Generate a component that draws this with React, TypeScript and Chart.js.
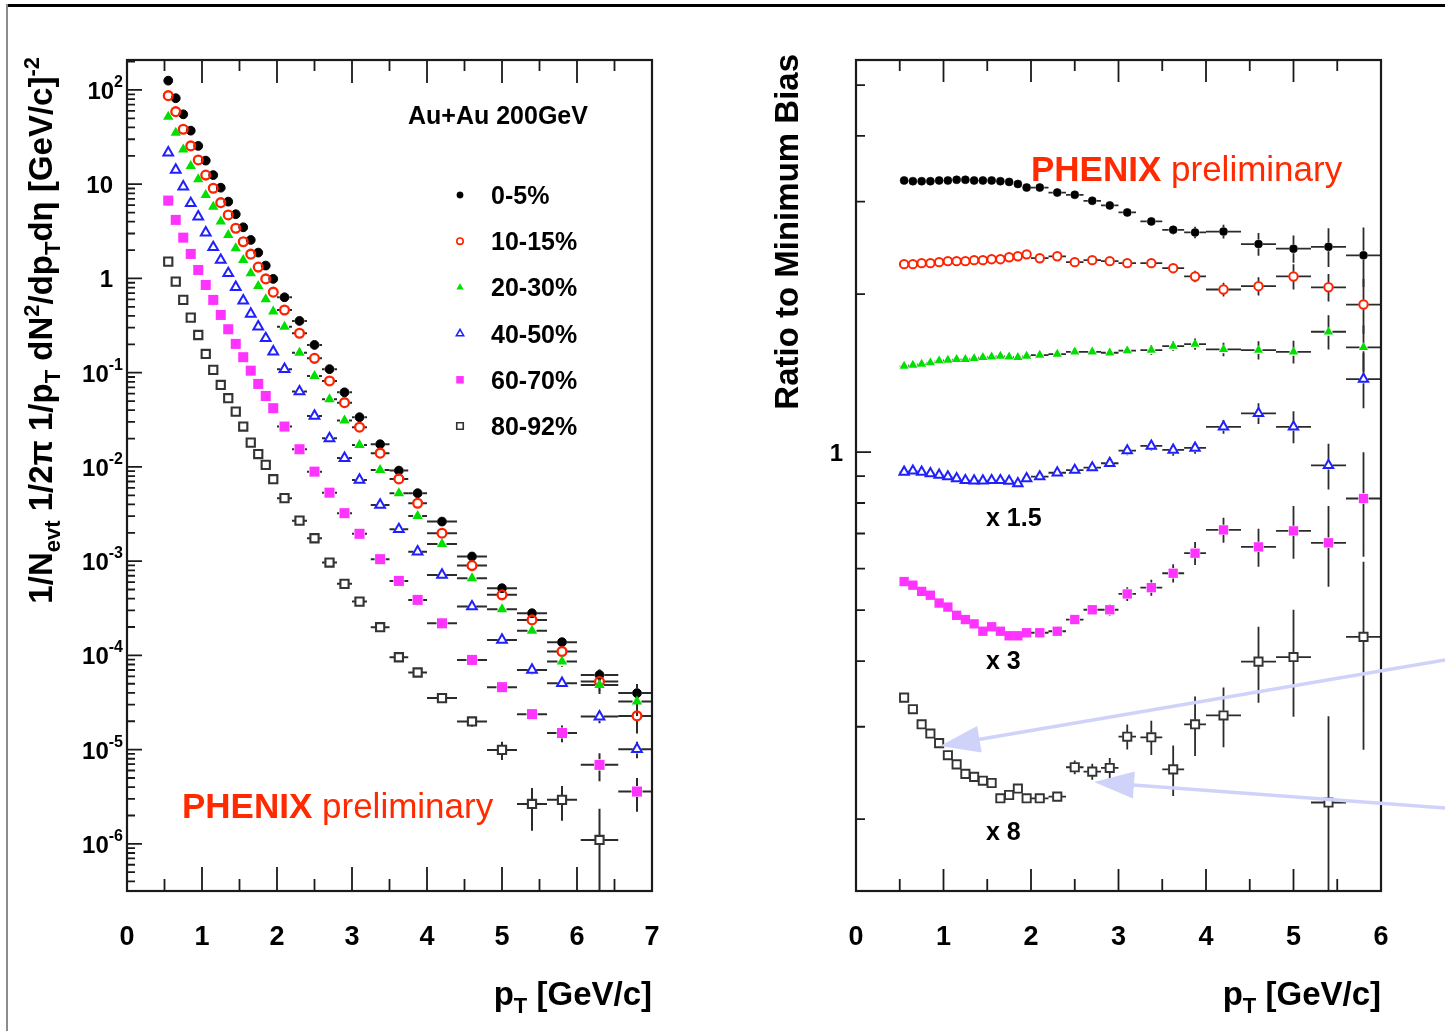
import { useEffect, useRef } from 'react';
import { Chart, registerables } from 'chart.js';

Chart.register(...registerables);

const PAGE_W = 1445;
const PAGE_H = 1031;
const FONT = "'Liberation Sans', Arial, Helvetica, sans-serif";
const AXIS_COLOR = '#1a1a1a';
const BAR_COLOR = '#2b2b2b';
const PHENIX_RED = '#ff2a00';
const ARROW_COLOR = '#d0d3f9';

// ---- binning (shared by both panels) ----
const PT_BINS = [0.55, 0.65, 0.75, 0.85, 0.95, 1.05, 1.15, 1.25, 1.35, 1.45, 1.55, 1.65, 1.75, 1.85, 1.95, 2.1, 2.3, 2.5, 2.7, 2.9, 3.1, 3.375, 3.625, 3.875, 4.2, 4.6, 5.0, 5.4, 5.8, 6.3, 6.8];
const PT_HALF_WIDTHS = [0.05, 0.05, 0.05, 0.05, 0.05, 0.05, 0.05, 0.05, 0.05, 0.05, 0.05, 0.05, 0.05, 0.05, 0.05, 0.1, 0.1, 0.1, 0.1, 0.1, 0.1, 0.125, 0.125, 0.125, 0.2, 0.2, 0.2, 0.2, 0.2, 0.25, 0.25];

const CENTRALITY_CLASSES = ['0-5%', '10-15%', '20-30%', '40-50%', '60-70%', '80-92%'];

// ---- invariant yields, 1/Nevt 1/2pi 1/pT d2N/dpTdeta ----
const YIELD_0_5 = [125.6, 81.7, 55.2, 37.0, 25.5, 17.8, 12.5, 9.18, 6.53, 4.80, 3.49, 2.56, 1.88, 1.37, 0.989, 0.631, 0.354, 0.197, 0.109, 0.0619, 0.0337, 0.0174, 0.00914, 0.00526, 0.00263, 0.00112, 0.000516, 0.00028, 0.000138, 0.0000621, 0.0000398];
const YIELD_10_15 = [87.1, 58.9, 38.3, 25.5, 18.1, 12.5, 9.06, 6.37, 4.72, 3.41, 2.45, 1.81, 1.32, 0.989, 0.715, 0.463, 0.262, 0.142, 0.0817, 0.0481, 0.0264, 0.014, 0.00746, 0.00412, 0.00198, 0.000897, 0.000439, 0.000238, 0.00011, 0.0000527, 0.0000228];
const YIELD_20_30 = [52.1, 35.2, 23.4, 15.6, 11.3, 7.69, 5.78, 4.01, 2.89, 2.09, 1.57, 1.135, 0.832, 0.601, 0.445, 0.308, 0.163, 0.0923, 0.0522, 0.031, 0.0171, 0.00929, 0.00526, 0.00302, 0.00152, 0.000659, 0.000309, 0.000183, 0.0000859, 0.0000486, 0.0000324];
const YIELD_40_50 = [21.6, 14.2, 9.42, 6.28, 4.53, 3.06, 2.14, 1.57, 1.135, 0.807, 0.581, 0.42, 0.308, 0.232, 0.167, 0.109, 0.0631, 0.0348, 0.0201, 0.0124, 0.00728, 0.00395, 0.00218, 0.00126, 0.000714, 0.00033, 0.000146, 0.0000701, 0.0000507, 0.0000224, 0.0000101];
const YIELD_60_70 = [6.7, 4.18, 2.71, 1.82, 1.23, 0.853, 0.592, 0.41, 0.289, 0.202, 0.146, 0.105, 0.076, 0.0566, 0.042, 0.0268, 0.0154, 0.00891, 0.00533, 0.00323, 0.00195, 0.00105, 0.000617, 0.000388, 0.000219, 0.0000895, 0.000046, 0.0000238, 0.000015, 0.00000689, 0.00000359];
const YIELD_80_92 = [1.51, 0.925, 0.592, 0.384, 0.251, 0.158, 0.107, 0.0741, 0.0536, 0.0386, 0.0268, 0.0181, 0.0137, 0.0105, 0.00741, 0.00466, 0.00269, 0.00175, 0.000966, 0.000574, 0.000372, 0.000199, 0.0000955, 0.0000658, 0.0000352, 0.0000199, 0.00000993, 0.00000265, 0.00000293, 0.0000011];

// relative statistical errors on the yields
const YIELD_ERR_0_5 = [0.02, 0.02, 0.02, 0.02, 0.02, 0.02, 0.02, 0.02, 0.02, 0.02, 0.02, 0.02, 0.02, 0.02, 0.02, 0.03, 0.03, 0.03, 0.03, 0.03, 0.03, 0.03, 0.04, 0.04, 0.05, 0.06, 0.07, 0.08, 0.12, 0.15, 0.25];
const YIELD_ERR_10_15 = [0.02, 0.02, 0.02, 0.02, 0.02, 0.02, 0.02, 0.02, 0.02, 0.02, 0.02, 0.02, 0.02, 0.02, 0.02, 0.03, 0.03, 0.03, 0.03, 0.03, 0.03, 0.03, 0.04, 0.04, 0.05, 0.06, 0.07, 0.09, 0.12, 0.2, 0.35];
const YIELD_ERR_20_30 = [0.02, 0.02, 0.02, 0.02, 0.02, 0.02, 0.02, 0.02, 0.02, 0.02, 0.02, 0.02, 0.02, 0.02, 0.02, 0.03, 0.03, 0.03, 0.03, 0.03, 0.03, 0.03, 0.04, 0.04, 0.05, 0.06, 0.07, 0.09, 0.12, 0.2, 0.3];
const YIELD_ERR_40_50 = [0.02, 0.02, 0.02, 0.02, 0.02, 0.02, 0.02, 0.02, 0.02, 0.02, 0.02, 0.02, 0.02, 0.02, 0.02, 0.03, 0.03, 0.03, 0.03, 0.03, 0.03, 0.03, 0.04, 0.04, 0.05, 0.06, 0.08, 0.1, 0.1, 0.15, 0.2];
const YIELD_ERR_60_70 = [0.02, 0.02, 0.02, 0.02, 0.02, 0.02, 0.02, 0.02, 0.02, 0.02, 0.02, 0.02, 0.02, 0.02, 0.02, 0.03, 0.03, 0.03, 0.03, 0.03, 0.03, 0.03, 0.04, 0.04, 0.05, 0.07, 0.09, 0.13, 0.2, 0.33, 0.39];
const YIELD_ERR_80_92 = [0.02, 0.02, 0.02, 0.02, 0.02, 0.02, 0.02, 0.02, 0.02, 0.02, 0.02, 0.02, 0.02, 0.02, 0.02, 0.03, 0.03, 0.04, 0.04, 0.05, 0.05, 0.06, 0.07, 0.08, 0.09, 0.12, 0.22, 0.48, 0.4, 1.15];

// ---- ratio of each class to the minimum-bias spectrum ----
const RATIO_0_5 = [3.29, 3.28, 3.28, 3.28, 3.29, 3.29, 3.3, 3.3, 3.29, 3.29, 3.29, 3.28, 3.27, 3.24, 3.19, 3.19, 3.12, 3.09, 3.01, 2.95, 2.86, 2.75, 2.65, 2.62, 2.63, 2.49, 2.44, 2.46, 2.37];
const RATIO_10_15 = [2.28, 2.28, 2.29, 2.29, 2.3, 2.31, 2.31, 2.31, 2.32, 2.32, 2.33, 2.33, 2.35, 2.36, 2.38, 2.34, 2.36, 2.3, 2.32, 2.31, 2.29, 2.29, 2.24, 2.16, 2.04, 2.07, 2.16, 2.06, 1.91];
const RATIO_20_30 = [1.458, 1.465, 1.471, 1.48, 1.493, 1.497, 1.502, 1.502, 1.508, 1.515, 1.519, 1.524, 1.519, 1.515, 1.524, 1.53, 1.537, 1.552, 1.552, 1.546, 1.56, 1.564, 1.592, 1.606, 1.569, 1.564, 1.552, 1.695, 1.583];
const RATIO_40_50 = [0.611, 0.614, 0.611, 0.607, 0.603, 0.599, 0.594, 0.589, 0.588, 0.588, 0.589, 0.589, 0.587, 0.581, 0.594, 0.599, 0.609, 0.616, 0.623, 0.635, 0.671, 0.685, 0.673, 0.679, 0.745, 0.79, 0.745, 0.629, 0.918];
const RATIO_60_70 = [0.189, 0.186, 0.181, 0.178, 0.172, 0.169, 0.163, 0.16, 0.157, 0.152, 0.155, 0.152, 0.149, 0.149, 0.151, 0.151, 0.152, 0.16, 0.167, 0.167, 0.179, 0.184, 0.196, 0.214, 0.237, 0.22, 0.236, 0.224, 0.272];
const RATIO_80_92 = [0.0426, 0.0405, 0.0379, 0.0364, 0.0349, 0.0331, 0.0318, 0.0305, 0.0301, 0.0296, 0.0293, 0.0274, 0.0278, 0.0286, 0.0274, 0.0274, 0.0276, 0.0314, 0.0308, 0.0313, 0.0359, 0.0358, 0.0311, 0.0379, 0.0394, 0.0499, 0.0509, 0.0269, 0.0556];
// display multipliers applied to the peripheral ratios
const RATIO_SCALE = [1, 1, 1, 1.5, 3, 8];

const RATIO_ERR_0_5 = [0.01, 0.01, 0.01, 0.01, 0.01, 0.01, 0.01, 0.01, 0.01, 0.01, 0.01, 0.01, 0.01, 0.01, 0.01, 0.01, 0.01, 0.01, 0.01, 0.01, 0.015, 0.02, 0.02, 0.025, 0.03, 0.05, 0.06, 0.085, 0.13];
const RATIO_ERR_10_15 = [0.01, 0.01, 0.01, 0.01, 0.01, 0.01, 0.01, 0.01, 0.01, 0.01, 0.01, 0.01, 0.01, 0.01, 0.01, 0.01, 0.01, 0.01, 0.01, 0.01, 0.015, 0.02, 0.02, 0.025, 0.03, 0.04, 0.055, 0.06, 0.12];
const RATIO_ERR_20_30 = [0.01, 0.01, 0.01, 0.01, 0.01, 0.01, 0.01, 0.01, 0.01, 0.01, 0.01, 0.01, 0.01, 0.01, 0.01, 0.01, 0.01, 0.01, 0.01, 0.01, 0.015, 0.02, 0.02, 0.025, 0.03, 0.04, 0.05, 0.075, 0.1];
const RATIO_ERR_40_50 = [0.01, 0.01, 0.01, 0.01, 0.01, 0.01, 0.01, 0.01, 0.01, 0.01, 0.01, 0.01, 0.01, 0.01, 0.01, 0.01, 0.01, 0.01, 0.01, 0.01, 0.02, 0.02, 0.025, 0.025, 0.03, 0.045, 0.07, 0.1, 0.12];
const RATIO_ERR_60_70 = [0.01, 0.01, 0.01, 0.01, 0.01, 0.01, 0.01, 0.01, 0.01, 0.01, 0.01, 0.01, 0.01, 0.01, 0.01, 0.015, 0.015, 0.02, 0.02, 0.025, 0.03, 0.035, 0.04, 0.05, 0.055, 0.083, 0.115, 0.175, 0.225];
const RATIO_ERR_80_92 = [0.015, 0.015, 0.015, 0.015, 0.015, 0.015, 0.015, 0.015, 0.015, 0.015, 0.015, 0.015, 0.015, 0.015, 0.015, 0.02, 0.02, 0.03, 0.035, 0.045, 0.055, 0.075, 0.11, 0.13, 0.13, 0.165, 0.23, 0.46, 0.39];

// ---- axes ----
const SPECTRA_X_RANGE = [0, 7];
const SPECTRA_Y_RANGE = [3.16e-7, 208];
const SPECTRA_X_TICKS = [0, 1, 2, 3, 4, 5, 6, 7];
const SPECTRA_Y_DECADES = [-6, -5, -4, -3, -2, -1, 0, 1, 2];
const RATIO_X_RANGE = [0, 6];
const RATIO_Y_RANGE = [0.146, 5.58];
const RATIO_X_TICKS = [0, 1, 2, 3, 4, 5, 6];
const RATIO_Y_LABELS = [1];

const SPECTRA = [YIELD_0_5, YIELD_10_15, YIELD_20_30, YIELD_40_50, YIELD_60_70, YIELD_80_92];
const SPECTRA_ERR = [YIELD_ERR_0_5, YIELD_ERR_10_15, YIELD_ERR_20_30, YIELD_ERR_40_50, YIELD_ERR_60_70, YIELD_ERR_80_92];
const RATIOS = [RATIO_0_5, RATIO_10_15, RATIO_20_30, RATIO_40_50, RATIO_60_70, RATIO_80_92];
const RATIOS_ERR = [RATIO_ERR_0_5, RATIO_ERR_10_15, RATIO_ERR_20_30, RATIO_ERR_40_50, RATIO_ERR_60_70, RATIO_ERR_80_92];

type Shape = 'circle' | 'triangle' | 'rect';
const MARKERS: { color: string; shape: Shape; filled: boolean }[] = [
  { color: '#000000', shape: 'circle', filled: true },
  { color: '#ff2200', shape: 'circle', filled: false },
  { color: '#00e000', shape: 'triangle', filled: true },
  { color: '#1f1fff', shape: 'triangle', filled: false },
  { color: '#ff33ff', shape: 'rect', filled: true },
  { color: '#333333', shape: 'rect', filled: false },
];
const SPECTRA_MARKER_SIZE = [
  { r: 4.4, bw: 1 }, { r: 4.4, bw: 2.3 }, { r: 6, bw: 0 }, { r: 5.6, bw: 2 }, { r: 7.1, bw: 0 }, { r: 5.8, bw: 2.1 },
];
const RATIO_MARKER_SIZE = [
  { r: 4, bw: 0.6 }, { r: 4.2, bw: 2 }, { r: 5.3, bw: 0 }, { r: 5.4, bw: 2 }, { r: 6.6, bw: 0 }, { r: 5.8, bw: 1.9 },
];
const LEGEND_MARKER_SIZE = [
  { r: 3.2, bw: 0.5 }, { r: 3.2, bw: 1.6 }, { r: 4.2, bw: 0 }, { r: 4.2, bw: 1.6 }, { r: 5.3, bw: 0 }, { r: 4.6, bw: 1.6 },
];

// ---- text helpers ----
type Seg = { t: string; size: number; bold?: boolean; dy?: number };
const segFont = (s: Seg) => `${s.bold ? 'bold ' : ''}${s.size}px ${FONT}`;

function richWidth(ctx: CanvasRenderingContext2D, segs: Seg[]) {
  let w = 0;
  for (const s of segs) {
    ctx.font = segFont(s);
    w += ctx.measureText(s.t).width;
  }
  return w;
}

function drawRich(ctx: CanvasRenderingContext2D, segs: Seg[], x: number, y: number, align: 'left' | 'right' | 'center') {
  const w = richWidth(ctx, segs);
  let cx = align === 'left' ? x : align === 'right' ? x - w : x - w / 2;
  ctx.textAlign = 'left';
  ctx.textBaseline = 'alphabetic';
  for (const s of segs) {
    ctx.font = segFont(s);
    ctx.fillText(s.t, cx, y + (s.dy || 0));
    cx += ctx.measureText(s.t).width;
  }
}

function drawMarker(ctx: CanvasRenderingContext2D, shape: Shape, filled: boolean, color: string, x: number, y: number, r: number, bw: number) {
  ctx.save();
  ctx.beginPath();
  if (shape === 'circle') ctx.arc(x, y, r, 0, Math.PI * 2);
  else if (shape === 'triangle') {
    ctx.moveTo(x, y - r);
    ctx.lineTo(x + r * 0.866, y + r / 2);
    ctx.lineTo(x - r * 0.866, y + r / 2);
    ctx.closePath();
  } else {
    const h = r * Math.SQRT1_2;
    ctx.rect(x - h, y - h, 2 * h, 2 * h);
  }
  if (filled) {
    ctx.fillStyle = color;
    ctx.fill();
  }
  if (bw > 0) {
    ctx.lineWidth = bw;
    ctx.strokeStyle = color;
    ctx.stroke();
  }
  ctx.restore();
}

const X_TITLE: Seg[] = [
  { t: 'p', size: 33, bold: true },
  { t: 'T', size: 22, bold: true, dy: 8 },
  { t: ' [GeV/c]', size: 33, bold: true },
];
const SPECTRA_Y_TITLE: Seg[] = [
  { t: '1/N', size: 33, bold: true },
  { t: 'evt', size: 22, bold: true, dy: 8 },
  { t: ' 1/2π 1/p', size: 33, bold: true },
  { t: 'T', size: 22, bold: true, dy: 8 },
  { t: ' dN', size: 33, bold: true },
  { t: '2', size: 22, bold: true, dy: -13 },
  { t: '/dp', size: 33, bold: true },
  { t: 'T', size: 22, bold: true, dy: 8 },
  { t: 'dη [GeV/c]', size: 33, bold: true },
  { t: '-2', size: 22, bold: true, dy: -13 },
];
const RATIO_Y_TITLE: Seg[] = [{ t: 'Ratio to Minimum Bias', size: 33, bold: true }];
const PRELIMINARY: Seg[] = [
  { t: 'PHENIX', size: 35, bold: true },
  { t: ' preliminary', size: 35 },
];

// ---- error bars drawn beneath the markers ----
const errorBarPlugin = {
  id: 'errorBars',
  beforeDatasetsDraw(chart: any) {
    const { ctx, chartArea: a } = chart;
    const xs = chart.scales.x;
    const ys = chart.scales.y;
    ctx.save();
    ctx.beginPath();
    ctx.rect(a.left, a.top, a.right - a.left, a.bottom - a.top);
    ctx.clip();
    ctx.strokeStyle = BAR_COLOR;
    chart.data.datasets.forEach((ds: any) => {
      ctx.lineWidth = ds.barWidth;
      const gap = ds.barGap;
      ctx.beginPath();
      ds.data.forEach((p: any, i: number) => {
        const px = xs.getPixelForValue(p.x);
        const py = ys.getPixelForValue(p.y);
        const hw = ds.xHalfWidths[i];
        const f = ds.yErrFractions[i];
        const xl = xs.getPixelForValue(p.x - hw);
        const xr = xs.getPixelForValue(p.x + hw);
        if (px - xl > gap) {
          ctx.moveTo(xl, py);
          ctx.lineTo(px - gap, py);
          ctx.moveTo(px + gap, py);
          ctx.lineTo(xr, py);
        }
        const yt = ys.getPixelForValue(p.y * (1 + f));
        const yb = f >= 1 ? a.bottom : ys.getPixelForValue(p.y * (1 - f));
        if (py - yt > gap) {
          ctx.moveTo(px, yt);
          ctx.lineTo(px, py - gap);
        }
        if (yb - py > gap) {
          ctx.moveTo(px, py + gap);
          ctx.lineTo(px, yb);
        }
      });
      ctx.stroke();
    });
    ctx.restore();
  },
};

function markerGap(shape: Shape, r: number) {
  if (shape === 'circle') return r + 0.5;
  if (shape === 'triangle') return r * 0.75;
  return r * Math.SQRT1_2 + 0.5;
}

function buildDatasets(series: number[][], errors: number[][], scale: number[], sizes: { r: number; bw: number }[], barWidth: number) {
  return series.map((vals, k) => {
    const m = MARKERS[k];
    const sz = sizes[k];
    return {
      label: CENTRALITY_CLASSES[k],
      data: vals.map((v, i) => ({ x: PT_BINS[i], y: v * scale[k] })),
      xHalfWidths: vals.map((_, i) => PT_HALF_WIDTHS[i]),
      yErrFractions: errors[k],
      barGap: markerGap(m.shape, sz.r),
      barWidth,
      showLine: false,
      pointStyle: m.shape,
      pointRadius: sz.r,
      pointHoverRadius: sz.r,
      pointBorderWidth: sz.bw,
      pointBackgroundColor: m.filled ? m.color : 'rgba(0,0,0,0)',
      pointBorderColor: m.color,
      order: series.length - 1 - k,
    };
  });
}

function drawLogTicks(ctx: CanvasRenderingContext2D, ys: any, left: number, majorLen: number, minorLen: number) {
  const lo = Math.floor(Math.log10(ys.min));
  const hi = Math.ceil(Math.log10(ys.max));
  for (let d = lo; d <= hi; d++) {
    for (let k = 1; k <= 9; k++) {
      const v = k * Math.pow(10, d);
      if (v < ys.min || v > ys.max) continue;
      const py = ys.getPixelForValue(v);
      ctx.moveTo(left, py);
      ctx.lineTo(left + (k === 1 ? majorLen : minorLen), py);
    }
  }
}

function drawXTicks(ctx: CanvasRenderingContext2D, xs: any, a: any, ticks: number[], botLong: number, botShort: number, topLong: number, topShort: number) {
  for (const t of ticks) {
    for (const v of [t, t + 0.5]) {
      if (v <= xs.min || v >= xs.max) continue;
      const px = xs.getPixelForValue(v);
      const major = v === t;
      ctx.moveTo(px, a.bottom);
      ctx.lineTo(px, a.bottom - (major ? botLong : botShort));
      ctx.moveTo(px, a.top);
      ctx.lineTo(px, a.top + (major ? topLong : topShort));
    }
  }
}

function drawFrame(ctx: CanvasRenderingContext2D, a: any) {
  ctx.lineWidth = 2.2;
  ctx.strokeStyle = AXIS_COLOR;
  ctx.strokeRect(a.left, a.top, a.right - a.left, a.bottom - a.top);
}

// ---- left panel: spectra ----
const spectraDecor = {
  id: 'spectraDecor',
  afterDatasetsDraw(chart: any) {
    const { ctx, chartArea: a } = chart;
    const xs = chart.scales.x;
    const ys = chart.scales.y;
    ctx.save();
    ctx.strokeStyle = AXIS_COLOR;
    ctx.lineWidth = 1.8;
    ctx.beginPath();
    drawXTicks(ctx, xs, a, SPECTRA_X_TICKS, 24, 12, 23, 11);
    drawLogTicks(ctx, ys, a.left, 15, 8);
    ctx.stroke();
    drawFrame(ctx, a);
    ctx.restore();
  },
  afterDraw(chart: any) {
    const { ctx, chartArea: a } = chart;
    const xs = chart.scales.x;
    const ys = chart.scales.y;
    ctx.save();
    ctx.fillStyle = '#000';
    for (const t of SPECTRA_X_TICKS) {
      drawRich(ctx, [{ t: String(t), size: 27, bold: true }], xs.getPixelForValue(t), 945, 'center');
    }
    for (const d of SPECTRA_Y_DECADES) {
      const py = ys.getPixelForValue(Math.pow(10, d));
      if (d === 0 || d === 1) {
        drawRich(ctx, [{ t: d === 0 ? '1' : '10', size: 24, bold: true }], a.left - 14, py + 9, 'right');
      } else {
        drawRich(ctx, [{ t: '10', size: 24, bold: true }, { t: String(d), size: 16, bold: true, dy: -12 }], a.left - 4, py + 9, 'right');
      }
    }
    drawRich(ctx, X_TITLE, a.right, 1005, 'right');
    ctx.save();
    ctx.translate(52, 57);
    ctx.rotate(-Math.PI / 2);
    drawRich(ctx, SPECTRA_Y_TITLE, 0, 0, 'right');
    ctx.restore();

    // legend
    drawRich(ctx, [{ t: 'Au+Au 200GeV', size: 25, bold: true }], 408, 124, 'left');
    CENTRALITY_CLASSES.forEach((label, k) => {
      const y = 195 + k * 46.2;
      const m = MARKERS[k];
      const sz = LEGEND_MARKER_SIZE[k];
      drawMarker(ctx, m.shape, m.filled, m.color, 460, y, sz.r, sz.bw);
      ctx.fillStyle = '#000';
      drawRich(ctx, [{ t: label, size: 25, bold: true }], 491, y + 9, 'left');
    });

    ctx.fillStyle = PHENIX_RED;
    drawRich(ctx, PRELIMINARY, 182, 818, 'left');
    ctx.restore();
  },
};

// ---- right panel: ratio to minimum bias ----
const OFFSET_R = 720;
const ratioDecor = {
  id: 'ratioDecor',
  afterDatasetsDraw(chart: any) {
    const { ctx, chartArea: a } = chart;
    const xs = chart.scales.x;
    const ys = chart.scales.y;
    ctx.save();
    ctx.strokeStyle = AXIS_COLOR;
    ctx.lineWidth = 1.8;
    ctx.beginPath();
    drawXTicks(ctx, xs, a, RATIO_X_TICKS, 22, 12, 22, 11);
    drawLogTicks(ctx, ys, a.left, 15, 9);
    ctx.stroke();
    drawFrame(ctx, a);
    ctx.restore();
  },
  afterDraw(chart: any) {
    const { ctx, chartArea: a } = chart;
    const xs = chart.scales.x;
    const ys = chart.scales.y;
    ctx.save();
    ctx.fillStyle = '#000';
    for (const t of RATIO_X_TICKS) {
      drawRich(ctx, [{ t: String(t), size: 27, bold: true }], xs.getPixelForValue(t), 945, 'center');
    }
    for (const v of RATIO_Y_LABELS) {
      drawRich(ctx, [{ t: String(v), size: 24, bold: true }], a.left - 13, ys.getPixelForValue(v) + 9, 'right');
    }
    drawRich(ctx, X_TITLE, a.right, 1005, 'right');
    ctx.save();
    ctx.translate(798 - OFFSET_R, 54);
    ctx.rotate(-Math.PI / 2);
    drawRich(ctx, RATIO_Y_TITLE, 0, 0, 'right');
    ctx.restore();

    // multiplier labels under the scaled curves
    const labelY = [0, 0, 0, 526, 669, 840];
    RATIO_SCALE.forEach((s, k) => {
      if (s === 1) return;
      drawRich(ctx, [{ t: `x ${s}`, size: 25, bold: true }], 986 - OFFSET_R, labelY[k], 'left');
    });

    ctx.fillStyle = PHENIX_RED;
    drawRich(ctx, PRELIMINARY, 1031 - OFFSET_R, 181, 'left');

    // pointer arrows
    const arrows = [
      { from: [PAGE_W - OFFSET_R, 660], to: [940 - OFFSET_R, 746] },
      { from: [PAGE_W - OFFSET_R, 808], to: [1094 - OFFSET_R, 782] },
    ];
    ctx.strokeStyle = ARROW_COLOR;
    ctx.fillStyle = ARROW_COLOR;
    ctx.lineWidth = 3.5;
    for (const ar of arrows) {
      const [x0, y0] = ar.from;
      const [x1, y1] = ar.to;
      const len = Math.hypot(x1 - x0, y1 - y0);
      const ux = (x1 - x0) / len;
      const uy = (y1 - y0) / len;
      const L = 40;
      const W = 13.5;
      const bx = x1 - ux * L;
      const by = y1 - uy * L;
      ctx.beginPath();
      ctx.moveTo(x0, y0);
      ctx.lineTo(bx + ux * 4, by + uy * 4);
      ctx.stroke();
      ctx.beginPath();
      ctx.moveTo(x1, y1);
      ctx.lineTo(bx - uy * W, by + ux * W);
      ctx.lineTo(bx + uy * W, by - ux * W);
      ctx.closePath();
      ctx.fill();
    }
    ctx.restore();
  },
};

function baseOptions(xRange: number[], yRange: number[], padding: any) {
  return {
    animation: false,
    responsive: false,
    devicePixelRatio: 1,
    events: [],
    layout: { padding },
    plugins: { legend: { display: false }, tooltip: { enabled: false } },
    scales: {
      x: { type: 'linear', min: xRange[0], max: xRange[1], bounds: 'data', display: false },
      y: { type: 'logarithmic', min: yRange[0], max: yRange[1], bounds: 'data', display: false },
    },
  };
}

function buildSpectraConfig(): any {
  return {
    type: 'scatter',
    data: { datasets: buildDatasets(SPECTRA, SPECTRA_ERR, [1, 1, 1, 1, 1, 1], SPECTRA_MARKER_SIZE, 2) },
    options: baseOptions(SPECTRA_X_RANGE, SPECTRA_Y_RANGE, { left: 127, right: 68, top: 60, bottom: 140 }),
    plugins: [errorBarPlugin, spectraDecor],
  };
}

function buildRatioConfig(): any {
  return {
    type: 'scatter',
    data: { datasets: buildDatasets(RATIOS, RATIOS_ERR, RATIO_SCALE, RATIO_MARKER_SIZE, 1.8) },
    options: baseOptions(RATIO_X_RANGE, RATIO_Y_RANGE, { left: 136, right: 64, top: 60, bottom: 140 }),
    plugins: [errorBarPlugin, ratioDecor],
  };
}

function ChartCanvas({ build, left, width }: { build: () => any; left: number; width: number }) {
  const ref = useRef<HTMLCanvasElement>(null);
  useEffect(() => {
    if (!ref.current) return;
    const chart = new Chart(ref.current, build());
    return () => chart.destroy();
  }, [build]);
  return (
    <canvas
      ref={ref}
      width={width}
      height={PAGE_H}
      style={{ position: 'absolute', left, top: 0, width, height: PAGE_H }}
    />
  );
}

export default function App() {
  return (
    <div style={{ position: 'absolute', left: 0, top: 0, width: PAGE_W, height: PAGE_H, background: '#ffffff', overflow: 'hidden' }}>
      <ChartCanvas build={buildSpectraConfig} left={0} width={720} />
      <ChartCanvas build={buildRatioConfig} left={OFFSET_R} width={PAGE_W - OFFSET_R} />
      <div style={{ position: 'absolute', left: 6, top: 4, width: PAGE_W - 6, height: 3, background: '#000000' }} />
      <div style={{ position: 'absolute', left: 6, top: 4, width: 2, height: PAGE_H - 4, background: '#8c8c8c' }} />
    </div>
  );
}
